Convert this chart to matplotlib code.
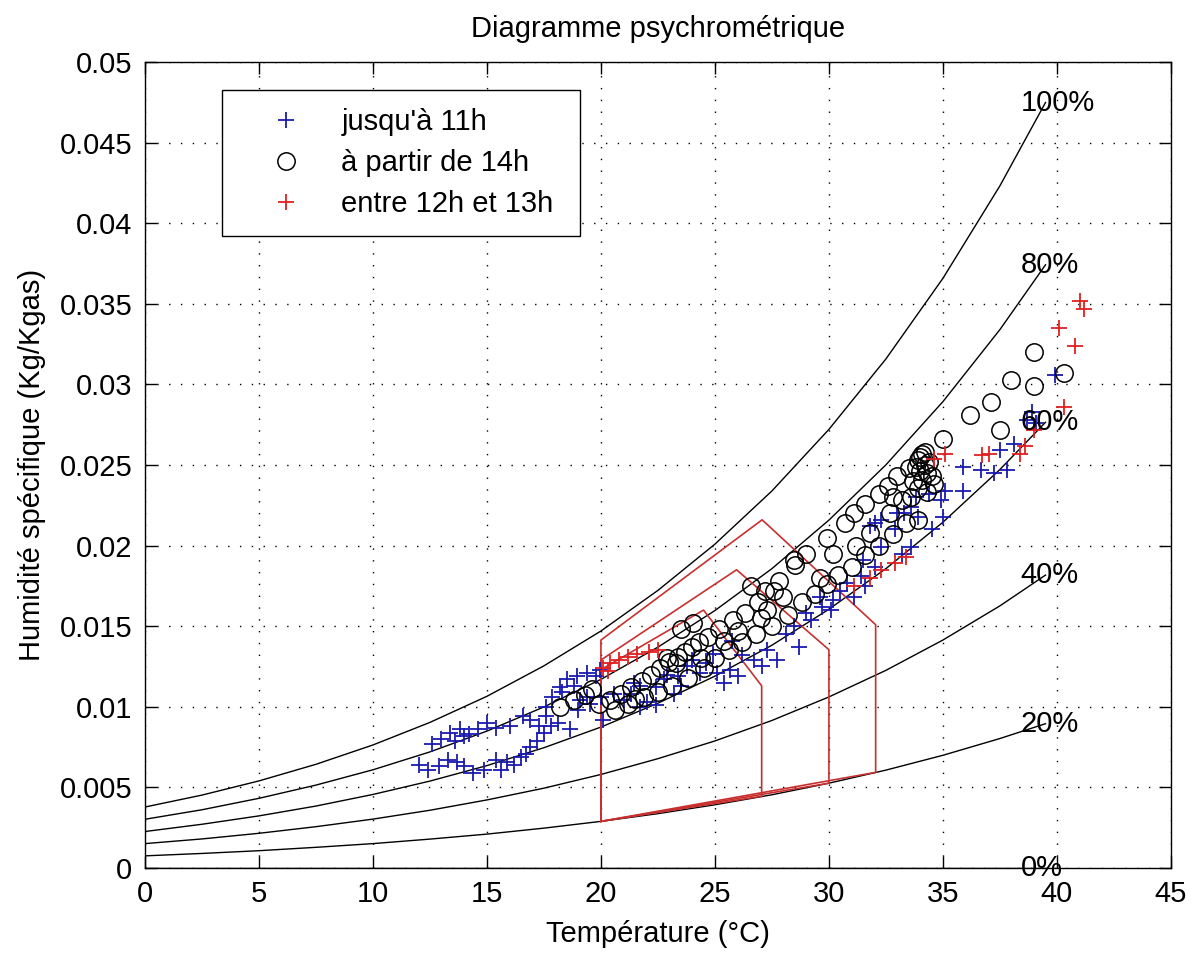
import matplotlib
matplotlib.use('Agg')
import matplotlib.pyplot as plt

plt.rcParams.update({
    'font.family': ['Liberation Sans', 'DejaVu Sans'],
    'font.size': 21,
})

# humidity curves (kg/kg) read along temperature
temps = [0, 2.5, 5, 7.5, 10, 12.5, 15, 17.5, 20, 22.5, 25, 27.5, 30, 32.5, 35, 37.5, 39.5]
rh100 = [0.00378, 0.00452, 0.00540, 0.00643, 0.00763, 0.00903, 0.01065, 0.01254, 0.01470,
         0.01722, 0.02009, 0.02339, 0.02721, 0.03158, 0.03658, 0.04232, 0.04749]
rh80 = [0.00302, 0.00361, 0.00432, 0.00514, 0.00609, 0.00720, 0.00849, 0.00999, 0.01170,
        0.01370, 0.01597, 0.01857, 0.02158, 0.02501, 0.02893, 0.03340, 0.03742]
rh60 = [0.00226, 0.00271, 0.00323, 0.00384, 0.00456, 0.00539, 0.00635, 0.00746, 0.00874,
        0.01022, 0.01190, 0.01382, 0.01605, 0.01857, 0.02145, 0.02472, 0.02765]
rh40 = [0.00151, 0.00180, 0.00215, 0.00256, 0.00303, 0.00358, 0.00422, 0.00495, 0.00580,
        0.00678, 0.00788, 0.00915, 0.01061, 0.01226, 0.01414, 0.01626, 0.01817]
rh20 = [0.00075, 0.00090, 0.00107, 0.00128, 0.00151, 0.00179, 0.00210, 0.00247, 0.00289,
        0.00337, 0.00392, 0.00454, 0.00526, 0.00607, 0.00699, 0.00803, 0.00895]
rh0 = [0] * len(temps)
curve_labels = ['100%', '80%', '60%', '40%', '20%', '0%']

# comfort zones
zone1_t = [20, 20, 27.07, 32.05, 32.05, 20]
zone1_w = [0.00289, 0.01414, 0.02160, 0.01509, 0.00593, 0.00289]
zone2_t = [20, 20, 25.95, 30.0, 30.0, 20]
zone2_w = [0.00289, 0.0129, 0.01850, 0.01354, 0.00526, 0.00289]
zone3_t = [20, 20, 24.5, 27.05, 27.05, 20]
zone3_w = [0.00289, 0.0123, 0.0160, 0.0113, 0.00445, 0.00289]

# jusqu'à 11h
morning_t = [12.0, 12.4, 12.9, 13.3, 13.7, 14.0, 14.4, 14.85, 15.4, 15.9, 16.5, 16.9, 17.2, 17.5, 17.8,
             12.6, 13.0, 13.4, 13.8, 14.2, 14.6, 15.0, 15.4, 16.0, 16.6, 16.9, 17.6, 18.1, 18.65,
             17.6, 17.85, 18.2, 18.5, 18.95, 19.4, 19.8, 20.0, 19.5, 19.1, 20.1,
             19.97, 19.4, 20.56, 21.0, 21.44, 21.73, 21.73, 22.75, 23.2, 23.5, 23.78, 24.36,
             25.1, 25.4, 25.68, 25.75, 26.7, 27.07, 27.73, 28.68, 28.46, 29.2, 29.7, 30.2, 31.1,
             30.8, 31.4, 31.5, 32.0, 32.3, 32.0, 32.9, 33.2, 33.3, 33.6, 33.6,
             31.8, 32.3, 33.0, 33.8, 34.4, 35.1, 35.9, 35.0, 34.5, 35.9, 36.65, 37.24, 37.8,
             37.5, 38.1, 38.7, 39.1, 39.9, 38.9,
             21.3, 22.0, 22.4, 22.9, 23.4, 24.0, 24.6, 24.9, 26.2, 26.0, 27.3, 28.1, 29.0, 30.5,
             31.6, 13.6, 14.0, 15.6, 16.2, 16.7, 17.3, 18.3, 18.8, 19.0, 22.4, 30.1, 29.6, 33.9, 34.9]
morning_w = [0.0064, 0.0061, 0.0063, 0.0067, 0.0066, 0.0063, 0.0059, 0.0061, 0.0067, 0.0066, 0.0069, 0.0075, 0.0079, 0.0084, 0.0088,
             0.0077, 0.0080, 0.0084, 0.0086, 0.0083, 0.0086, 0.0090, 0.0087, 0.0088, 0.0094, 0.0092, 0.0094, 0.0090, 0.0086,
             0.0100, 0.0106, 0.0112, 0.0117, 0.0119, 0.0121, 0.0119, 0.0106, 0.0102, 0.0104, 0.0092,
             0.0123, 0.0106, 0.0108, 0.0104, 0.0115, 0.0100, 0.0113, 0.0117, 0.0108, 0.0113, 0.0125, 0.0121,
             0.0121, 0.0115, 0.0123, 0.0141, 0.0129, 0.0125, 0.0129, 0.0137, 0.0150, 0.0154, 0.0162, 0.0166, 0.0168,
             0.0177, 0.0181, 0.0191, 0.0187, 0.0199, 0.0214, 0.0210, 0.0195, 0.0220, 0.0224, 0.0199,
             0.0212, 0.0216, 0.0220, 0.0230, 0.0232, 0.0234, 0.0234, 0.0218, 0.0210, 0.0249, 0.0247, 0.0245, 0.0247,
             0.0259, 0.0263, 0.0278, 0.0276, 0.0306, 0.0283,
             0.0108, 0.0103, 0.0112, 0.0120, 0.0119, 0.0129, 0.0127, 0.0133, 0.0132, 0.0119, 0.0135, 0.0145, 0.0158, 0.0172,
             0.0175, 0.0079, 0.0082, 0.0061, 0.0064, 0.0071, 0.0088, 0.0109, 0.0113, 0.0098, 0.0101, 0.0160, 0.0168, 0.0218, 0.0228]

# à partir de 14h
afternoon_t = [18.2, 18.8, 19.3, 19.9, 20.4, 20.9, 21.3, 21.8, 22.2, 22.6, 23.0, 23.4, 23.7, 24.0, 24.3,
               24.7, 25.2, 25.8, 26.3, 26.9, 27.2, 27.8, 28.5, 29.0, 29.9, 30.7, 31.1, 31.6, 32.2,
               32.6, 33.0, 33.5, 33.9, 34.1, 35.0, 36.2, 37.1, 37.97, 39.0, 39.0, 40.3, 37.5,
               20.6, 21.2, 21.9, 22.5, 23.1, 23.8, 24.5, 25.0, 25.6, 26.2, 26.8, 27.5, 28.2, 28.8,
               29.4, 29.9, 30.4, 31.0, 31.6, 32.2, 32.8, 33.4, 33.9, 33.6, 33.9, 34.1, 34.3, 34.2,
               34.0, 34.4, 34.6, 34.3, 33.2, 32.7, 31.2, 28.46, 26.6, 27.6, 24.06, 23.5,
               19.6, 21.5, 22.9, 23.3, 24.4, 25.4, 26.0, 27.0, 27.3, 28.0, 29.6, 30.2, 31.8, 32.8,
               33.7, 34.0, 34.2, 33.8, 34.5]
afternoon_w = [0.0100, 0.0104, 0.0107, 0.0102, 0.0104, 0.0108, 0.0112, 0.0116, 0.0120, 0.0124, 0.0128, 0.0131, 0.0134, 0.0137, 0.0140,
               0.0143, 0.0148, 0.0154, 0.0158, 0.0165, 0.0172, 0.0178, 0.0188, 0.0195, 0.0205, 0.0214, 0.0220, 0.0226, 0.0232,
               0.0237, 0.0243, 0.0248, 0.0253, 0.0257, 0.0266, 0.0281, 0.0289, 0.0303, 0.0320, 0.0299, 0.0307, 0.0272,
               0.0098, 0.0102, 0.0106, 0.0109, 0.0113, 0.0118, 0.0124, 0.0130, 0.0135, 0.0140, 0.0145, 0.0150, 0.0157, 0.0165,
               0.0170, 0.0176, 0.0182, 0.0187, 0.0194, 0.0200, 0.0207, 0.0214, 0.0216, 0.0230, 0.0236, 0.0241, 0.0245, 0.0250,
               0.0246, 0.0252, 0.0238, 0.0233, 0.0228, 0.0220, 0.0200, 0.0191, 0.0175, 0.0172, 0.0152, 0.0148,
               0.0111, 0.0105, 0.0130, 0.0127, 0.0130, 0.0141, 0.0147, 0.0155, 0.0160, 0.0168, 0.0180, 0.0195, 0.0208, 0.0230,
               0.0240, 0.0255, 0.0258, 0.0249, 0.0243]

# entre 12h et 13h
noon_t = [20.1, 20.4, 20.8, 21.2, 21.6, 22.1, 22.5, 20.3, 31.1, 31.8, 32.3, 32.9, 33.4,
          34.6, 35.1, 36.7, 37.0, 38.4, 38.6, 39.0, 40.3, 40.1, 40.8, 41.0, 41.2]
noon_w = [0.0124, 0.0127, 0.0129, 0.0131, 0.0133, 0.0134, 0.0135, 0.0122, 0.0175, 0.0180, 0.0185, 0.0189, 0.0193,
          0.0254, 0.0257, 0.0256, 0.0257, 0.0257, 0.0262, 0.0272, 0.0286, 0.0335, 0.0324, 0.0352, 0.0347]

fig = plt.figure(figsize=(11.92, 9.56), dpi=100)
ax = fig.add_axes([0.1216, 0.0921, 0.8607, 0.8430])

for curve, lab in zip([rh100, rh80, rh60, rh40, rh20, rh0], curve_labels):
    ax.plot(temps, curve, color='black', linewidth=1.0)
    ax.text(38.4, curve[-1], lab, ha='left', va='center', fontsize=21)

for zt, zw in [(zone1_t, zone1_w), (zone2_t, zone2_w), (zone3_t, zone3_w)]:
    ax.plot(zt, zw, color='#c83030', linewidth=1.2)

ax.plot(morning_t, morning_w, '+', color='#1a1ab0', markersize=12, markeredgewidth=1.3,
        label="jusqu'à 11h")
ax.plot(afternoon_t, afternoon_w, 'o', markerfacecolor='none', markeredgecolor='black',
        markersize=12.5, markeredgewidth=1.1, label='à partir de 14h')
ax.plot(noon_t, noon_w, '+', color='#e02020', markersize=12, markeredgewidth=1.3,
        label='entre 12h et 13h')

ax.set_xlim(0, 45)
ax.set_ylim(0, 0.05)
ax.set_xticks(range(0, 46, 5))
ax.set_yticks([0, 0.005, 0.01, 0.015, 0.02, 0.025, 0.03, 0.035, 0.04, 0.045, 0.05])
ax.set_yticklabels(['0', '0.005', '0.01', '0.015', '0.02', '0.025', '0.03', '0.035', '0.04', '0.045', '0.05'])
ax.tick_params(direction='in', top=True, right=True, length=8.5, width=1, pad=9, labelsize=21)
ax.grid(True, color='black', linestyle=(0, (1, 7.5)), linewidth=1.0)
for sp in ax.spines.values():
    sp.set_linewidth(1.0)
    sp.set_color('black')

ax.set_xlabel('Température (°C)', fontsize=21, labelpad=8)
ax.set_ylabel('Humidité spécifique (Kg/Kgas)', fontsize=21, labelpad=10)
ax.set_title('Diagramme psychrométrique', fontsize=21, pad=18)

leg = ax.legend(loc='upper left', bbox_to_anchor=(0.075, 0.787, 0.349, 0.178), mode='expand',
                fancybox=False, framealpha=1, edgecolor='black', borderpad=0.6,
                handlelength=3.2, handletextpad=0.3, labelspacing=0.45, fontsize=21,
                borderaxespad=0)
leg.get_frame().set_linewidth(1.0)

fig.savefig('out.png', dpi=100, facecolor='white')
